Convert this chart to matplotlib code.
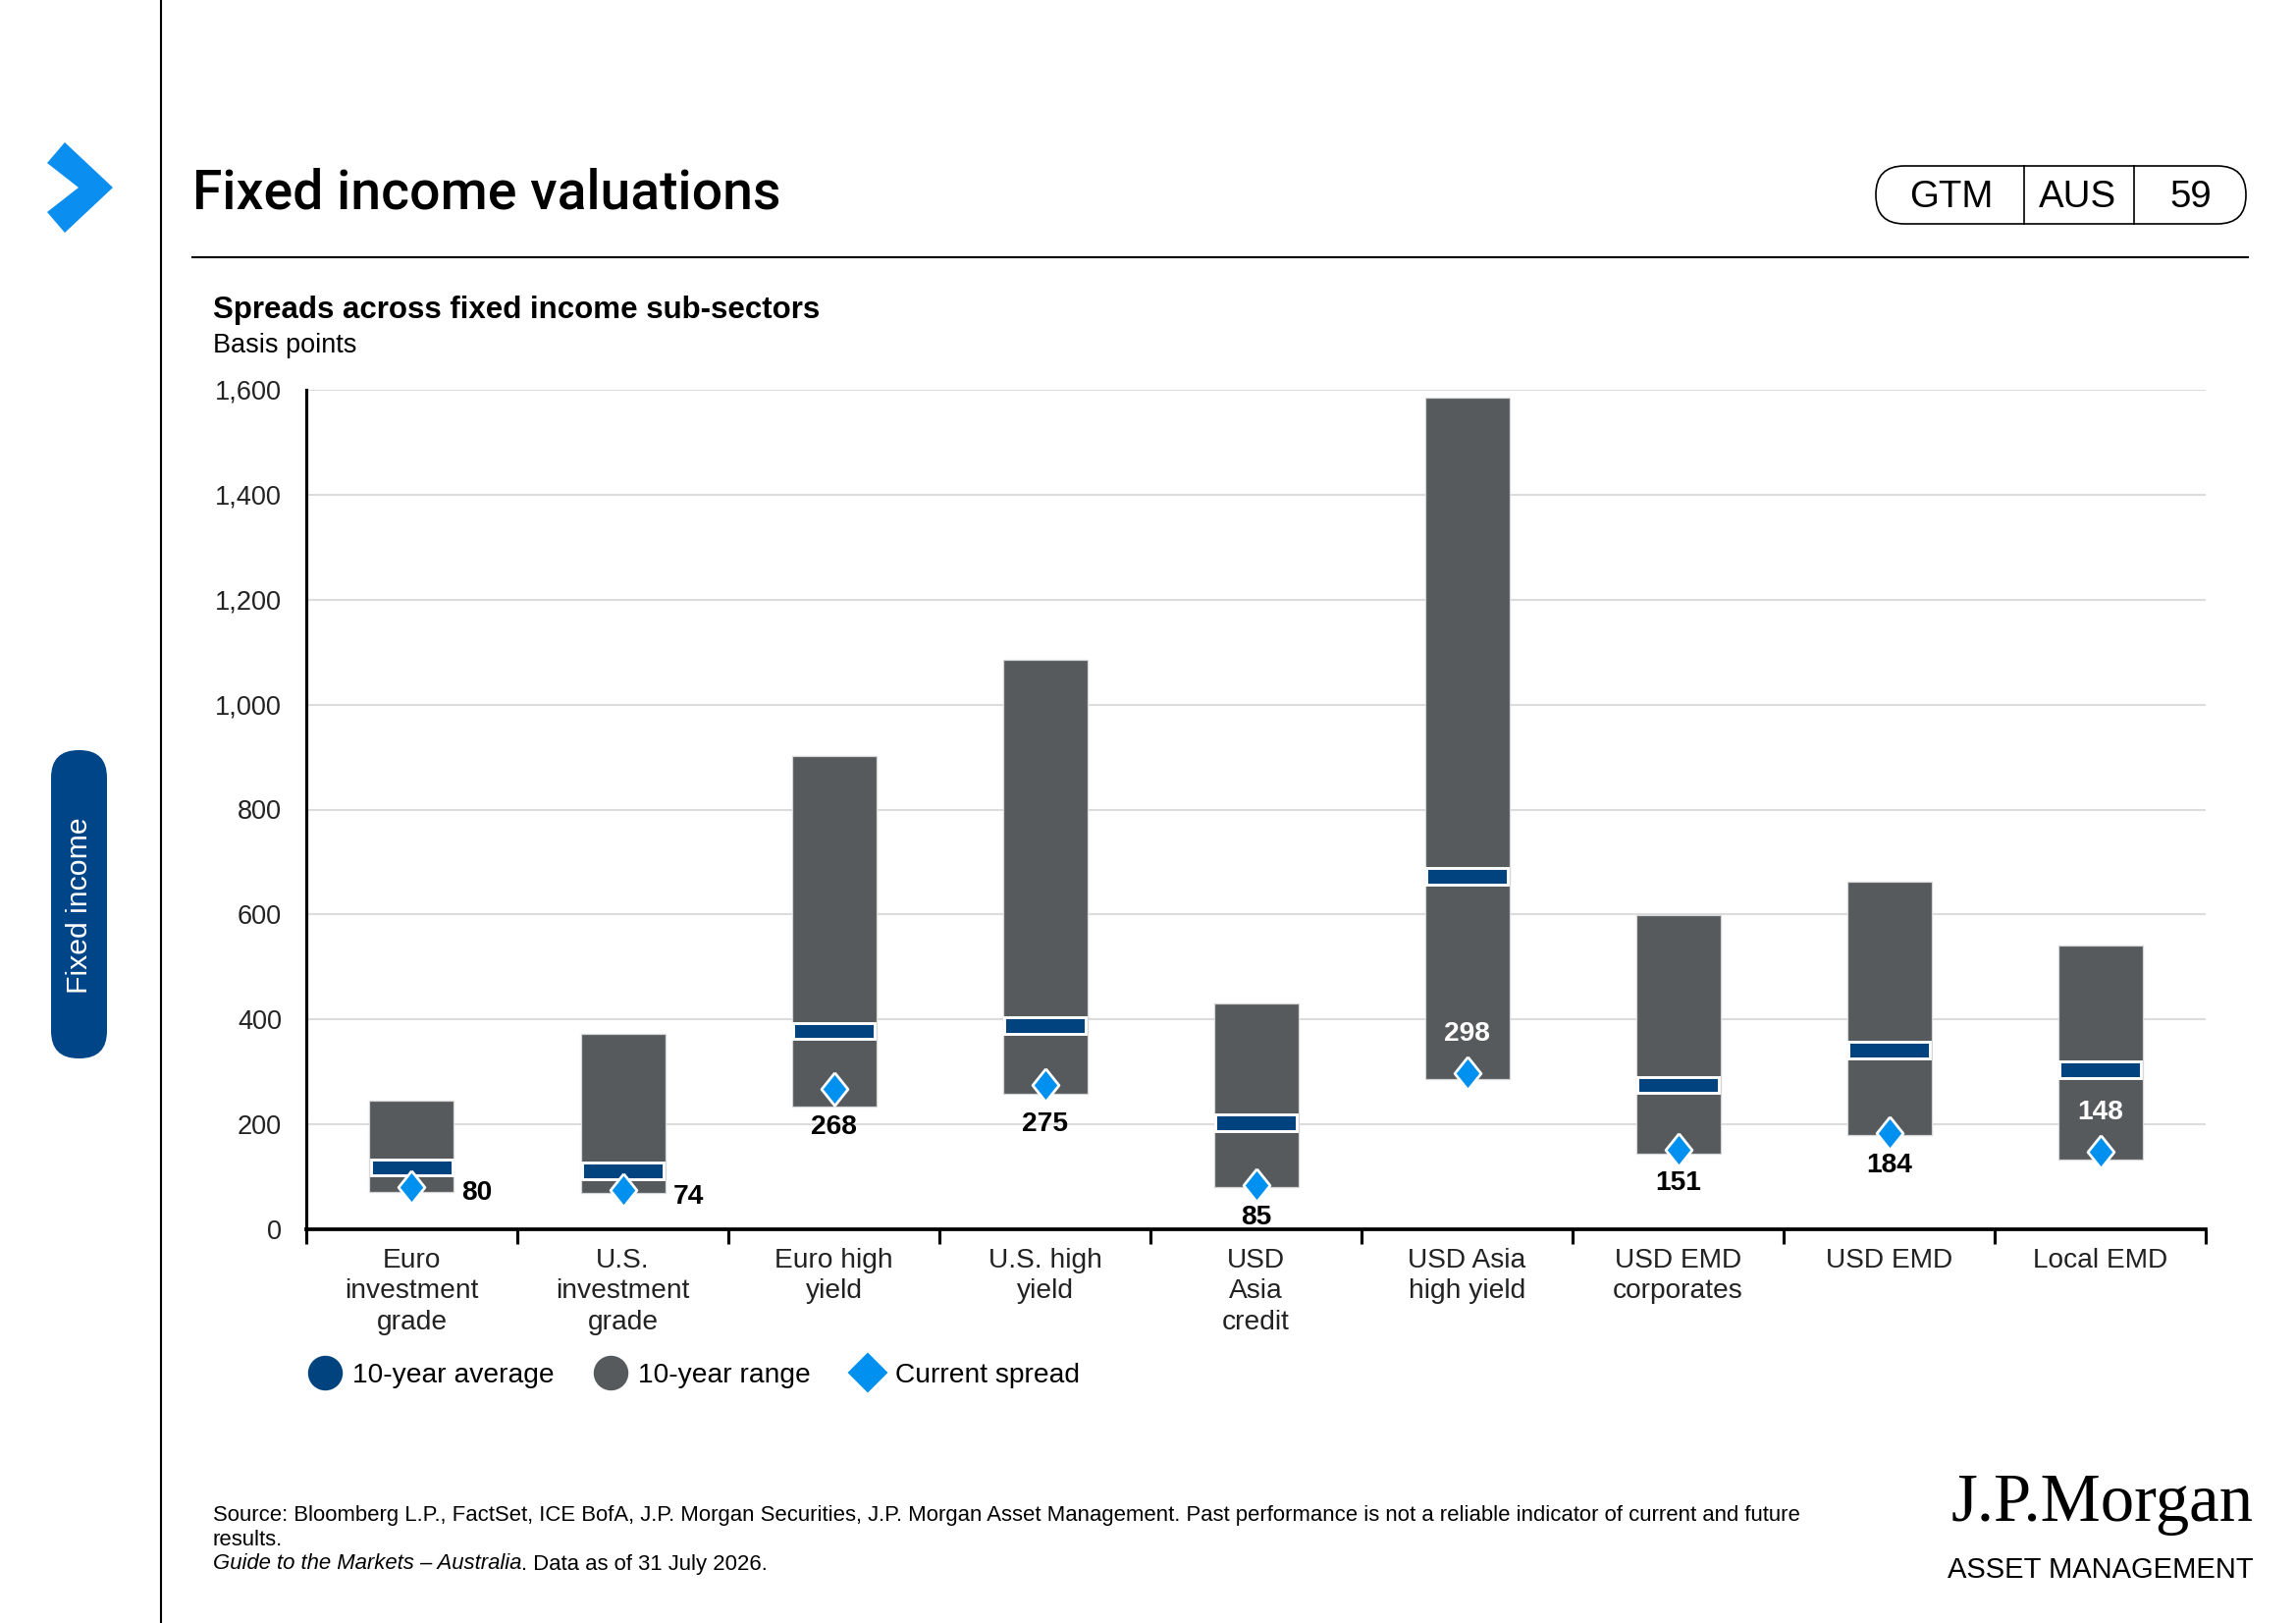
import numpy as np
import matplotlib
matplotlib.use("Agg")
import matplotlib.pyplot as plt
from matplotlib.lines import Line2D
from matplotlib.patches import FancyBboxPatch, Polygon

plt.rcParams['font.family'] = ['Liberation Sans', 'DejaVu Sans']

# data (basis points)
categories = ["Euro\ninvestment\ngrade", "U.S.\ninvestment\ngrade", "Euro high\nyield",
              "U.S. high\nyield", "USD\nAsia\ncredit", "USD Asia\nhigh yield",
              "USD EMD\ncorporates", "USD EMD", "Local EMD"]
range_low = [71, 70, 234, 258, 81, 286, 144, 180, 133]
range_high = [246, 372, 902, 1086, 430, 1585, 599, 662, 540]
ten_year_avg = [118, 111, 378, 388, 203, 673, 275, 341, 304]
current_spread = [80, 74, 268, 275, 85, 298, 151, 184, 148]
label_place = ["right", "right", "below", "below", "below", "above", "below", "below", "above"]

GRAY = "#575a5d"
NAVY = "#00437f"
BLUE = "#0091f0"
W, H = 2339, 1653

fig = plt.figure(figsize=(W / 150, H / 150), dpi=150)

# page decorations in pixel space
bg = fig.add_axes([0, 0, 1, 1], zorder=0)
bg.set_xlim(0, W)
bg.set_ylim(H, 0)
bg.axis("off")
bg.plot([164, 164], [0, H], color="black", lw=1.0)
bg.plot([196, 2290], [262, 262], color="black", lw=1.0)
bg.add_patch(Polygon([(48, 166), (66, 145), (115, 191), (66, 237), (48, 216), (80, 191)],
                     closed=True, color="#0a8ef0", lw=0))
bg.text(196, 197, "Fixed income valuations", fontsize=26.5, va="center", ha="left",
        family=["Roboto", "Liberation Sans"], weight="medium")

# GTM badge
bg.add_patch(FancyBboxPatch((1911, 169), 377, 59, boxstyle="round,pad=0,rounding_size=29",
                            fc="white", ec="black", lw=0.8))
bg.plot([2062, 2062], [169, 228], color="black", lw=0.8)
bg.plot([2174, 2174], [169, 228], color="black", lw=0.8)
for xx, tt in [(1988, "GTM"), (2117, "AUS"), (2232, "59")]:
    bg.text(xx, 201, tt, fontsize=18.5, ha="center", va="center")

# side tab
bg.add_patch(FancyBboxPatch((52, 764), 57, 314, boxstyle="round,pad=0,rounding_size=28",
                            fc="#004587", ec="none"))
bg.text(81, 922, "Fixed income", rotation=90, color="white", fontsize=14.5,
        ha="center", va="center")

bg.text(217, 316, "Spreads across fixed income sub-sectors", fontsize=15, weight="bold",
        ha="left", va="center")
bg.text(217, 352, "Basis points", fontsize=13, ha="left", va="center")

# footnote
bg.text(217, 1543, "Source: Bloomberg L.P., FactSet, ICE BofA, J.P. Morgan Securities, J.P. Morgan "
        "Asset Management. Past performance is not a reliable indicator of current and future",
        fontsize=10.6, ha="left", va="center")
bg.text(217, 1568, "results.", fontsize=10.6, ha="left", va="center")
guide = bg.text(217, 1593, "Guide to the Markets – Australia", fontsize=10.6, style="italic",
                ha="left", va="center")
bg.annotate(". Data as of 31 July 2026.", xy=(1, 0.5), xycoords=guide, fontsize=10.6,
            ha="left", va="center")

# logo
bg.text(2296, 1532, "J.P.Morgan", fontsize=33, family=["Liberation Serif", "DejaVu Serif"],
        ha="right", va="center")
bg.text(2296, 1599, "ASSET MANAGEMENT", fontsize=14, ha="right", va="center")

# chart
ax = fig.add_axes([312 / W, 1 - 1252 / H, (2247 - 312) / W, (1252 - 397) / H], zorder=2)
ax.patch.set_alpha(0)
x = np.arange(len(categories))
lo = np.array(range_low)
hi = np.array(range_high)
avg = np.array(ten_year_avg)
cur = np.array(current_spread)

ax.bar(x, hi - lo, bottom=lo, width=0.4, color=GRAY, edgecolor="#d6d6d6", linewidth=0.6, zorder=2)
ax.bar(x, 31, bottom=avg - 15.5, width=0.39, color=NAVY, edgecolor="white", linewidth=1.4, zorder=3)
diamond = [(0, 1), (0.8, 0), (0, -1), (-0.8, 0), (0, 1)]
ax.scatter(x, cur, marker=diamond, s=260, color=BLUE, edgecolor="white", linewidth=1.3, zorder=4)

offsets = {"right": (32, -3), "below": (0, -19), "above": (0, 19)}
for xi, v, p in zip(x, cur, label_place):
    dx, dy = offsets[p]
    if p == "below" and v - lo[xi] < 10:
        dy = -16
    ax.annotate(str(v), (xi, v), xytext=(dx, dy), textcoords="offset points",
                ha="center", va="center", fontsize=13.5, weight="bold",
                color="white" if p == "above" else "black", zorder=5)

ax.set_xlim(-0.5, len(categories) - 0.5)
ax.set_ylim(0, 1600)
ax.set_yticks(np.arange(0, 1601, 200))
ax.set_yticklabels([f"{v:,}" for v in range(0, 1601, 200)])
ax.yaxis.grid(True, color="#dcdcdc", lw=1.0, zorder=0)
ax.set_axisbelow(True)
ax.tick_params(axis="y", length=0, pad=12, labelsize=13, labelcolor="#222222")

ax.set_xticks(np.arange(-0.5, len(categories)), minor=False)
ax.set_xticklabels([])
ax.set_xticks(x, minor=True)
ax.set_xticklabels(categories, minor=True, fontsize=13.5, linespacing=1.28)
ax.tick_params(axis="x", which="major", length=7, width=1.5, direction="out")
ax.tick_params(axis="x", which="minor", length=0, pad=9, labelcolor="#222222")

for s in ["top", "right"]:
    ax.spines[s].set_visible(False)
ax.spines["left"].set_linewidth(1.5)
ax.spines["bottom"].set_linewidth(1.8)

handles = [Line2D([], [], marker="o", ls="none", ms=16, color=NAVY),
           Line2D([], [], marker="o", ls="none", ms=16, color=GRAY),
           Line2D([], [], marker="D", ls="none", ms=13, color=BLUE)]
ax.legend(handles, ["10-year average", "10-year range", "Current spread"], ncol=3,
          loc="center left", bbox_to_anchor=(300 / W, 1 - 1401 / H),
          bbox_transform=fig.transFigure, frameon=False, fontsize=13.5,
          handletextpad=0.4, columnspacing=1.45, handlelength=1.2, borderpad=0)

fig.savefig("out.png", dpi=150)
